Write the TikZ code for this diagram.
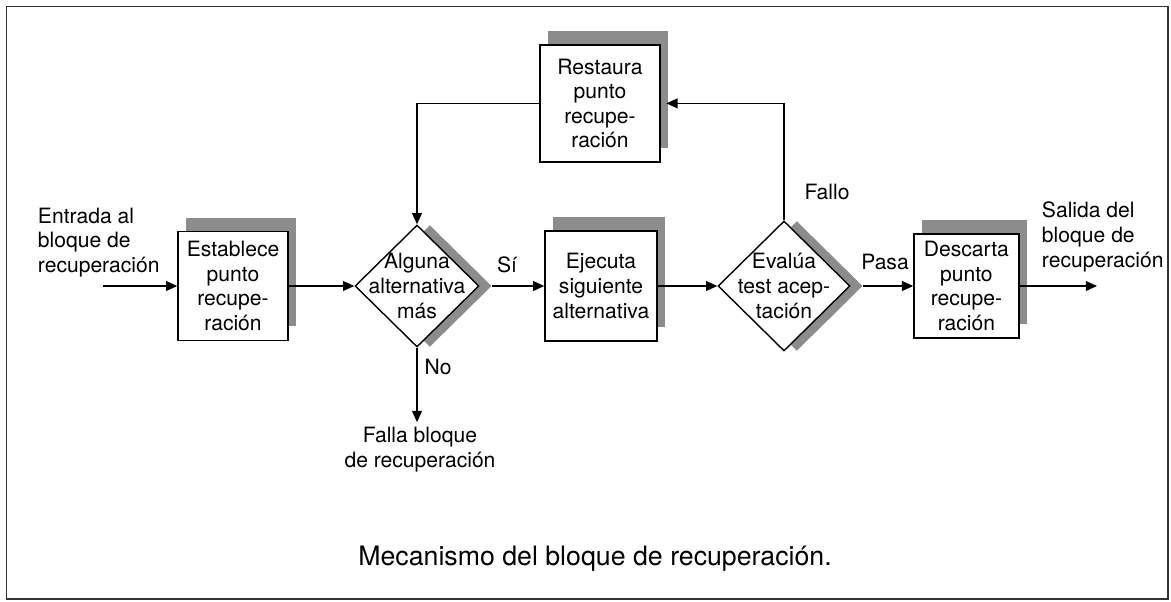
\documentclass[tikz,border=0pt]{standalone}
\usepackage{fontspec}
\setmainfont{TeX Gyre Heros}
\usetikzlibrary{shapes.geometric, arrows.meta, shadows}

\definecolor{sombra}{gray}{0.55}

\tikzset{
    paso/.style={draw, line width=1pt, fill=white, align=center, inner sep=1pt,
        drop shadow={shadow xshift=0.2cm, shadow yshift=0.35cm, fill=sombra, opacity=1}},
    decision/.style={diamond, draw, line width=1pt, fill=white, inner sep=0pt,
        drop shadow={shadow xshift=0.32cm, shadow yshift=0cm, fill=sombra, opacity=1}},
    flecha/.style={-{Triangle[length=8pt,width=7pt]}, line width=1pt},
}

\begin{document}
\begin{tikzpicture}[every node/.style={font=\fontsize{15}{17.5}\selectfont}]
        \useasboundingbox (0,0) rectangle (29.275,15.025);
        % marco
        \draw[line width=0.8pt, black!80] (0.16,0.05) rectangle (29.2,14.86);

        % bloques
        \node[paso, minimum width=2.75cm, minimum height=2.72cm] (est) at (5.825, 7.875) {Establece\\punto\\recupe-\\ración};
        \node[decision, minimum width=3.1cm, minimum height=3.05cm,
              label={[align=center]center:{Alguna\\alternativa\\más}}] (alg) at (10.425, 7.875) {};
        \node[paso, minimum width=2.8cm, minimum height=2.75cm] (eje) at (15.025, 7.875) {Ejecuta\\siguiente\\alternativa};
        \node[decision, minimum width=3.3cm, minimum height=3.25cm,
              label={[align=center]center:{Evalúa\\test acep-\\tación}}] (eva) at (19.6, 7.875) {};
        \node[paso, minimum width=2.625cm, minimum height=2.6cm] (des) at (24.16, 7.875) {Descarta\\punto\\recupe-\\ración};
        \node[paso, minimum width=3.0cm, minimum height=2.925cm] (rest) at (15.0, 12.44) {Restaura\\punto\\recupe-\\ración};

        % entrada, salida y fallo
        \node[anchor=west, align=left] (ent) at (0.825, 8.96) {Entrada al\\bloque de\\recuperación};
        \node[anchor=west, align=left] (sal) at (25.925, 9.1) {Salida del\\bloque de\\recuperación};
        \node[align=center] (falla) at (10.5, 3.79) {Falla bloque\\de recuperación};
        \coordinate (inicio) at (2.575, 7.875);
        \coordinate (fin) at (27.425, 7.875);

        % etiquetas de las flechas
        \node (si) at (12.675, 8.4) {Sí};
        \node (no) at (10.95, 5.85) {No};
        \node (fallo) at (20.675, 10.225) {Fallo};
        \node (pasa) at (22.125, 8.475) {Pasa};

        % flechas
        \draw[flecha] (inicio) -- (est.west);
        \draw[flecha] (est.east) -- (alg.west);
        \draw[flecha] ([xshift=9pt]alg.east) -- (eje.west);
        \draw[flecha] (eje.east) -- (eva.west);
        \draw[flecha] ([xshift=9pt]eva.east) -- (des.west);
        \draw[flecha] (des.east) -- (fin);
        \draw[flecha] (alg.south) -- (alg.south |- falla.north);
        \draw[flecha] (eva.north) |- ([xshift=4pt]rest.east);
        \draw[flecha] (rest.west) -| (alg.north);

        % pie
        \node[font=\fontsize{19}{22}\selectfont] (pie) at (14.875, 1.07) {Mecanismo del bloque de recuperación.};
    \end{tikzpicture}
\end{document}
